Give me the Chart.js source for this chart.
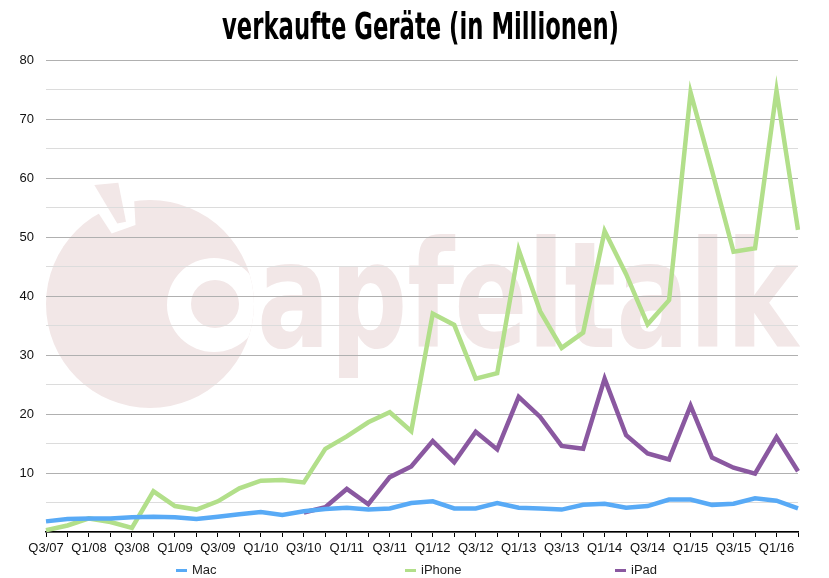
<!DOCTYPE html>
<html><head><meta charset="utf-8">
<script src="https://cdn.jsdelivr.net/npm/chart.js@4.4.0/dist/chart.umd.min.js"></script>
<style>html,body{margin:0;padding:0;background:#fff}#wrap{width:829px;height:578px;position:relative}</style>
</head><body><div id="wrap"><canvas id="c" width="829" height="578"></canvas></div>
<script>
const quarters = ['Q3/07','Q4/07','Q1/08','Q2/08','Q3/08','Q4/08','Q1/09','Q2/09','Q3/09','Q4/09',
  'Q1/10','Q2/10','Q3/10','Q4/10','Q1/11','Q2/11','Q3/11','Q4/11','Q1/12','Q2/12','Q3/12','Q4/12',
  'Q1/13','Q2/13','Q3/13','Q4/13','Q1/14','Q2/14','Q3/14','Q4/14','Q1/15','Q2/15','Q3/15','Q4/15','Q1/16','Q2/16'];
const mac = [1.8,2.2,2.3,2.3,2.5,2.6,2.5,2.2,2.6,3.0,3.4,2.9,3.5,3.9,4.1,3.8,4.0,4.9,5.2,4.0,4.0,4.9,
  4.1,4.0,3.8,4.6,4.8,4.1,4.4,5.5,5.5,4.6,4.8,5.7,5.3,4.0];
const iphone = [0.3,1.1,2.3,1.7,0.7,6.9,4.4,3.8,5.2,7.4,8.7,8.8,8.4,14.1,16.2,18.6,20.3,17.1,37.0,35.1,26.0,26.9,
  47.8,37.4,31.2,33.8,51.0,43.7,35.2,39.3,74.5,61.2,47.5,48.1,74.8,51.2];
const ipad = [null,null,null,null,null,null,null,null,null,null,null,null,3.3,4.2,7.3,4.7,9.3,11.1,15.4,11.8,17.0,14.0,
  22.9,19.5,14.6,14.1,26.0,16.4,13.3,12.3,21.4,12.6,10.9,9.9,16.1,10.3];
const seriesNames = ['Mac','iPhone','iPad'];
const seriesColors = ['rgb(88,170,246)','rgb(178,223,138)','rgb(138,88,160)'];
const titleText = 'verkaufte Geräte (in Millionen)';
const watermarkText = 'apfeltalk';

const FONT = '"Liberation Sans", Arial, sans-serif';

const watermark = {
  id: 'watermark',
  beforeDraw(chart) {
    const ctx = chart.ctx;
    ctx.save();
    const pink = 'rgb(242,231,231)';
    ctx.fillStyle = pink;
    ctx.beginPath(); ctx.arc(150, 304, 104, 0, Math.PI * 2); ctx.fill();
    ctx.fillStyle = '#fff';
    ctx.beginPath(); ctx.moveTo(86, 194); ctx.lineTo(111.7, 233.5); ctx.lineTo(135.5, 225); ctx.lineTo(133.5, 188); ctx.closePath(); ctx.fill();
    ctx.fillStyle = pink;
    ctx.beginPath(); ctx.moveTo(94.3, 185); ctx.lineTo(118.3, 182.7); ctx.lineTo(126, 221.7); ctx.lineTo(117.3, 223.5); ctx.closePath(); ctx.fill();
    ctx.save();
    ctx.beginPath(); ctx.arc(150, 304, 104, 0, Math.PI * 2); ctx.clip();
    ctx.fillStyle = '#fff';
    ctx.beginPath(); ctx.arc(214, 305, 47, 0, Math.PI * 2); ctx.fill();
    ctx.fillStyle = pink;
    ctx.beginPath(); ctx.arc(215, 304, 24, 0, Math.PI * 2); ctx.fill();
    ctx.restore();
    ctx.font = 'bold 148px "DejaVu Sans Condensed", "DejaVu Sans"';
    ctx.textBaseline = 'alphabetic';
    const w = ctx.measureText(watermarkText).width;
    ctx.translate(257, 347);
    ctx.scale(541 / w, 1);
    ctx.fillStyle = pink;
    ctx.fillText(watermarkText, 0, 0);
    ctx.restore();
  }
};

const titleLegend = {
  id: 'titleLegend',
  afterDraw(chart) {
    const ctx = chart.ctx;
    ctx.save();
    ctx.font = 'bold 38px "DejaVu Sans Condensed", "DejaVu Sans", sans-serif';
    ctx.fillStyle = '#000';
    ctx.textBaseline = 'alphabetic';
    const tw = ctx.measureText(titleText).width;
    const sx = 397 / tw;
    ctx.translate(420.5, 39);
    ctx.scale(sx, 1);
    ctx.textAlign = 'center';
    ctx.fillText(titleText, 0, 0);
    ctx.restore();

    ctx.save();
    const starts = [176, 405, 615];
    ctx.font = '13px ' + FONT;
    ctx.textBaseline = 'middle';
    chart.data.datasets.forEach((ds, i) => {
      const x = starts[i];
      ctx.fillStyle = ds.borderColor;
      ctx.fillRect(x, 569, 11, 3);
      ctx.fillStyle = '#222';
      ctx.fillText(ds.label, x + 16, 570.5);
    });
    ctx.restore();
  }
};

const mkDs = (i, data) => ({
  label: seriesNames[i], data, borderColor: seriesColors[i], backgroundColor: seriesColors[i],
  borderWidth: 4.5, pointRadius: 0, tension: 0, fill: false, spanGaps: false,
  borderJoinStyle: 'miter', borderCapStyle: 'butt'
});

new Chart(document.getElementById('c'), {
  type: 'line',
  data: { labels: quarters, datasets: [mkDs(0, mac), mkDs(1, iphone), mkDs(2, ipad)] },
  options: {
    responsive: false, animation: false, devicePixelRatio: 1,
    layout: { padding: { top: 60, right: 31, bottom: 20, left: 0 } },
    plugins: { legend: { display: false }, title: { display: false }, tooltip: { enabled: false } },
    scales: {
      x: {
        offset: false,
        grid: { display: true, drawOnChartArea: false, drawTicks: true, tickLength: 5, color: '#000', lineWidth: 1 },
        border: { display: true, color: '#000', width: 1.5 },
        ticks: { autoSkip: false, maxRotation: 0, minRotation: 0, padding: 4, color: '#111',
          font: { size: 13, family: FONT },
          callback: (v, i) => (i % 2 === 0 ? quarters[i] : '') },
        afterFit: s => { s.height = 26; }
      },
      y: {
        min: 0, max: 80,
        grid: { drawTicks: false, lineWidth: 1,
          color: c => (c.tick.value % 10 === 0 ? '#b0b0b0' : '#dcdcdc') },
        border: { display: false },
        ticks: { stepSize: 5, padding: 12, color: '#111', font: { size: 13, family: FONT },
          callback: v => (v % 10 === 0 && v > 0 ? v : '') },
        afterFit: s => { s.width = 46; }
      }
    }
  },
  plugins: [watermark, titleLegend]
});
</script></body></html>
